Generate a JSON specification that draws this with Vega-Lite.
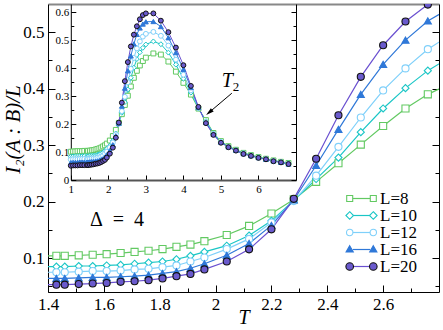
{
  "$schema": "https://vega.github.io/schema/vega-lite/v6.json",
  "width": 391,
  "height": 288,
  "autosize": {"type": "none"},
  "padding": {"left": 48, "top": 4, "right": 4, "bottom": 38},
  "background": "white",
  "config": {
    "view": {"stroke": null},
    "font": "Liberation Serif",
    "axis": {"labelFont": "Liberation Serif", "titleFont": "Liberation Serif", "labelColor": "black", "titleColor": "black", "tickColor": "black", "domainColor": "black", "grid": false, "labelOverlap": false, "labelFlush": false, "titleFontWeight": "normal"},
    "legend": {"labelFont": "Liberation Serif", "labelColor": "black"},
    "text": {"font": "Liberation Serif", "fontWeight": "normal"}
  },
  "data": {"values": [
    {"L":8,"T":1,"v":0.101},{"L":8,"T":1.06,"v":0.102},{"L":8,"T":1.12,"v":0.102},{"L":8,"T":1.18,"v":0.103},{"L":8,"T":1.24,"v":0.103},{"L":8,"T":1.3,"v":0.103},{"L":8,"T":1.36,"v":0.104},{"L":8,"T":1.43,"v":0.104},{"L":8,"T":1.46,"v":0.104},{"L":8,"T":1.51,"v":0.105},{"L":8,"T":1.56,"v":0.106},{"L":8,"T":1.61,"v":0.107},{"L":8,"T":1.66,"v":0.109},{"L":8,"T":1.71,"v":0.111},{"L":8,"T":1.76,"v":0.113},{"L":8,"T":1.81,"v":0.116},{"L":8,"T":1.86,"v":0.12},{"L":8,"T":1.91,"v":0.124},{"L":8,"T":1.96,"v":0.13},{"L":8,"T":2.04,"v":0.141},{"L":8,"T":2.12,"v":0.157},{"L":8,"T":2.2,"v":0.179},{"L":8,"T":2.28,"v":0.204},{"L":8,"T":2.36,"v":0.235},{"L":8,"T":2.44,"v":0.268},{"L":8,"T":2.52,"v":0.301},{"L":8,"T":2.6,"v":0.334},{"L":8,"T":2.68,"v":0.365},{"L":8,"T":2.76,"v":0.39},{"L":8,"T":2.84,"v":0.409},{"L":8,"T":2.92,"v":0.425},{"L":8,"T":3,"v":0.437},{"L":8,"T":3.2,"v":0.452},{"L":8,"T":3.4,"v":0.448},{"L":8,"T":3.6,"v":0.423},{"L":8,"T":3.8,"v":0.387},{"L":8,"T":4,"v":0.347},{"L":8,"T":4.2,"v":0.305},{"L":8,"T":4.4,"v":0.255},{"L":8,"T":4.6,"v":0.214},{"L":8,"T":4.8,"v":0.168},{"L":8,"T":5,"v":0.139},{"L":8,"T":5.2,"v":0.121},{"L":8,"T":5.4,"v":0.108},{"L":8,"T":5.6,"v":0.097},{"L":8,"T":5.8,"v":0.089},{"L":8,"T":6,"v":0.082},{"L":8,"T":6.2,"v":0.076},{"L":8,"T":6.4,"v":0.07},{"L":8,"T":6.6,"v":0.065},{"L":8,"T":6.8,"v":0.061},
    {"L":10,"T":1,"v":0.083},{"L":10,"T":1.06,"v":0.084},{"L":10,"T":1.12,"v":0.084},{"L":10,"T":1.18,"v":0.084},{"L":10,"T":1.24,"v":0.085},{"L":10,"T":1.3,"v":0.085},{"L":10,"T":1.36,"v":0.085},{"L":10,"T":1.43,"v":0.085},{"L":10,"T":1.46,"v":0.085},{"L":10,"T":1.51,"v":0.086},{"L":10,"T":1.56,"v":0.086},{"L":10,"T":1.61,"v":0.087},{"L":10,"T":1.66,"v":0.088},{"L":10,"T":1.71,"v":0.09},{"L":10,"T":1.76,"v":0.092},{"L":10,"T":1.81,"v":0.094},{"L":10,"T":1.86,"v":0.098},{"L":10,"T":1.91,"v":0.104},{"L":10,"T":1.96,"v":0.111},{"L":10,"T":2.04,"v":0.122},{"L":10,"T":2.12,"v":0.14},{"L":10,"T":2.2,"v":0.166},{"L":10,"T":2.28,"v":0.202},{"L":10,"T":2.36,"v":0.24},{"L":10,"T":2.44,"v":0.278},{"L":10,"T":2.52,"v":0.323},{"L":10,"T":2.6,"v":0.365},{"L":10,"T":2.68,"v":0.401},{"L":10,"T":2.76,"v":0.432},{"L":10,"T":2.84,"v":0.456},{"L":10,"T":2.92,"v":0.472},{"L":10,"T":3,"v":0.484},{"L":10,"T":3.2,"v":0.495},{"L":10,"T":3.4,"v":0.485},{"L":10,"T":3.6,"v":0.455},{"L":10,"T":3.8,"v":0.412},{"L":10,"T":4,"v":0.362},{"L":10,"T":4.2,"v":0.312},{"L":10,"T":4.4,"v":0.257},{"L":10,"T":4.6,"v":0.21},{"L":10,"T":4.8,"v":0.166},{"L":10,"T":5,"v":0.137},{"L":10,"T":5.2,"v":0.119},{"L":10,"T":5.4,"v":0.107},{"L":10,"T":5.6,"v":0.096},{"L":10,"T":5.8,"v":0.088},{"L":10,"T":6,"v":0.081},{"L":10,"T":6.2,"v":0.075},{"L":10,"T":6.4,"v":0.069},{"L":10,"T":6.6,"v":0.064},{"L":10,"T":6.8,"v":0.059},
    {"L":12,"T":1,"v":0.073},{"L":12,"T":1.06,"v":0.074},{"L":12,"T":1.12,"v":0.074},{"L":12,"T":1.18,"v":0.074},{"L":12,"T":1.24,"v":0.075},{"L":12,"T":1.3,"v":0.075},{"L":12,"T":1.36,"v":0.075},{"L":12,"T":1.43,"v":0.075},{"L":12,"T":1.46,"v":0.075},{"L":12,"T":1.51,"v":0.076},{"L":12,"T":1.56,"v":0.077},{"L":12,"T":1.61,"v":0.077},{"L":12,"T":1.66,"v":0.078},{"L":12,"T":1.71,"v":0.08},{"L":12,"T":1.76,"v":0.081},{"L":12,"T":1.81,"v":0.084},{"L":12,"T":1.86,"v":0.087},{"L":12,"T":1.91,"v":0.094},{"L":12,"T":1.96,"v":0.101},{"L":12,"T":2.04,"v":0.116},{"L":12,"T":2.12,"v":0.134},{"L":12,"T":2.2,"v":0.163},{"L":12,"T":2.28,"v":0.201},{"L":12,"T":2.36,"v":0.246},{"L":12,"T":2.44,"v":0.297},{"L":12,"T":2.52,"v":0.349},{"L":12,"T":2.6,"v":0.397},{"L":12,"T":2.68,"v":0.436},{"L":12,"T":2.76,"v":0.47},{"L":12,"T":2.84,"v":0.495},{"L":12,"T":2.92,"v":0.512},{"L":12,"T":3,"v":0.522},{"L":12,"T":3.2,"v":0.529},{"L":12,"T":3.4,"v":0.515},{"L":12,"T":3.6,"v":0.48},{"L":12,"T":3.8,"v":0.43},{"L":12,"T":4,"v":0.376},{"L":12,"T":4.2,"v":0.32},{"L":12,"T":4.4,"v":0.258},{"L":12,"T":4.6,"v":0.207},{"L":12,"T":4.8,"v":0.164},{"L":12,"T":5,"v":0.136},{"L":12,"T":5.2,"v":0.118},{"L":12,"T":5.4,"v":0.106},{"L":12,"T":5.6,"v":0.095},{"L":12,"T":5.8,"v":0.087},{"L":12,"T":6,"v":0.08},{"L":12,"T":6.2,"v":0.075},{"L":12,"T":6.4,"v":0.068},{"L":12,"T":6.6,"v":0.064},{"L":12,"T":6.8,"v":0.058},
    {"L":16,"T":1,"v":0.062},{"L":16,"T":1.06,"v":0.063},{"L":16,"T":1.12,"v":0.063},{"L":16,"T":1.18,"v":0.063},{"L":16,"T":1.24,"v":0.064},{"L":16,"T":1.3,"v":0.064},{"L":16,"T":1.36,"v":0.064},{"L":16,"T":1.43,"v":0.064},{"L":16,"T":1.46,"v":0.064},{"L":16,"T":1.51,"v":0.065},{"L":16,"T":1.56,"v":0.066},{"L":16,"T":1.61,"v":0.066},{"L":16,"T":1.66,"v":0.067},{"L":16,"T":1.71,"v":0.068},{"L":16,"T":1.76,"v":0.07},{"L":16,"T":1.81,"v":0.073},{"L":16,"T":1.86,"v":0.076},{"L":16,"T":1.91,"v":0.082},{"L":16,"T":1.96,"v":0.09},{"L":16,"T":2.04,"v":0.105},{"L":16,"T":2.12,"v":0.126},{"L":16,"T":2.2,"v":0.158},{"L":16,"T":2.28,"v":0.203},{"L":16,"T":2.36,"v":0.264},{"L":16,"T":2.44,"v":0.328},{"L":16,"T":2.52,"v":0.39},{"L":16,"T":2.6,"v":0.443},{"L":16,"T":2.68,"v":0.486},{"L":16,"T":2.76,"v":0.52},{"L":16,"T":2.84,"v":0.543},{"L":16,"T":2.92,"v":0.557},{"L":16,"T":3,"v":0.565},{"L":16,"T":3.2,"v":0.566},{"L":16,"T":3.4,"v":0.548},{"L":16,"T":3.6,"v":0.508},{"L":16,"T":3.8,"v":0.455},{"L":16,"T":4,"v":0.395},{"L":16,"T":4.2,"v":0.33},{"L":16,"T":4.4,"v":0.259},{"L":16,"T":4.6,"v":0.205},{"L":16,"T":4.8,"v":0.163},{"L":16,"T":5,"v":0.135},{"L":16,"T":5.2,"v":0.118},{"L":16,"T":5.4,"v":0.106},{"L":16,"T":5.6,"v":0.094},{"L":16,"T":5.8,"v":0.087},{"L":16,"T":6,"v":0.08},{"L":16,"T":6.2,"v":0.074},{"L":16,"T":6.4,"v":0.068},{"L":16,"T":6.6,"v":0.063},{"L":16,"T":6.8,"v":0.057},
    {"L":20,"T":1,"v":0.051},{"L":20,"T":1.06,"v":0.052},{"L":20,"T":1.12,"v":0.052},{"L":20,"T":1.18,"v":0.052},{"L":20,"T":1.24,"v":0.053},{"L":20,"T":1.3,"v":0.053},{"L":20,"T":1.36,"v":0.053},{"L":20,"T":1.43,"v":0.053},{"L":20,"T":1.46,"v":0.053},{"L":20,"T":1.51,"v":0.054},{"L":20,"T":1.56,"v":0.055},{"L":20,"T":1.61,"v":0.056},{"L":20,"T":1.66,"v":0.058},{"L":20,"T":1.71,"v":0.059},{"L":20,"T":1.76,"v":0.061},{"L":20,"T":1.81,"v":0.064},{"L":20,"T":1.86,"v":0.068},{"L":20,"T":1.91,"v":0.072},{"L":20,"T":1.96,"v":0.08},{"L":20,"T":2.04,"v":0.094},{"L":20,"T":2.12,"v":0.1155},{"L":20,"T":2.2,"v":0.151},{"L":20,"T":2.28,"v":0.205},{"L":20,"T":2.36,"v":0.276},{"L":20,"T":2.44,"v":0.353},{"L":20,"T":2.52,"v":0.421},{"L":20,"T":2.6,"v":0.477},{"L":20,"T":2.68,"v":0.519},{"L":20,"T":2.76,"v":0.549},{"L":20,"T":2.84,"v":0.574},{"L":20,"T":2.92,"v":0.589},{"L":20,"T":3,"v":0.595},{"L":20,"T":3.2,"v":0.595},{"L":20,"T":3.4,"v":0.569},{"L":20,"T":3.6,"v":0.528},{"L":20,"T":3.8,"v":0.473},{"L":20,"T":4,"v":0.41},{"L":20,"T":4.2,"v":0.336},{"L":20,"T":4.4,"v":0.261},{"L":20,"T":4.6,"v":0.203},{"L":20,"T":4.8,"v":0.161},{"L":20,"T":5,"v":0.133},{"L":20,"T":5.2,"v":0.117},{"L":20,"T":5.4,"v":0.105},{"L":20,"T":5.6,"v":0.093},{"L":20,"T":5.8,"v":0.086},{"L":20,"T":6,"v":0.079},{"L":20,"T":6.2,"v":0.074},{"L":20,"T":6.4,"v":0.067},{"L":20,"T":6.6,"v":0.063},{"L":20,"T":6.8,"v":0.057}
  ]},
  "resolve": {"scale": {"x": "independent", "y": "independent", "color": "independent", "fill": "independent", "shape": "independent"}, "axis": {"x": "independent", "y": "independent"}, "legend": {"color": "independent", "fill": "independent", "shape": "independent"}},
  "layer": [
    {
      "mark": {"type": "line", "clip": true, "strokeWidth": 1.2},
      "encoding": {
        "x": {"field": "T", "type": "quantitative", "scale": {"domain": [1.4, 2.8], "nice": false, "zero": false},
          "axis": {"orient": "bottom", "values": [1.4,1.5,1.6,1.7,1.8,1.9,2,2.1,2.2,2.3,2.4,2.5,2.6,2.7], "format": "~g",
            "labelExpr": "round(datum.value*10)%2==0 ? datum.label : ''",
            "tickSize": {"condition": {"test": "round(datum.value*10)%2==0", "value": -7}, "value": -4},
            "labelPadding": 11, "labelFontSize": 17, "domainWidth": 1,
            "title": "T", "titleFontSize": 20, "titleFontStyle": "italic", "titleY": 31, "titleBaseline": "alphabetic"}},
        "y": {"field": "v", "type": "quantitative", "scale": {"domain": [0.04, 0.55], "nice": false, "zero": false},
          "axis": {"orient": "left", "values": [0.05,0.1,0.15,0.2,0.25,0.3,0.35,0.4,0.45,0.5], "format": "~g",
            "labelExpr": "round(datum.value*20)%2==0 ? datum.label : ''",
            "tickSize": {"condition": {"test": "round(datum.value*20)%2==0", "value": -7}, "value": -4},
            "labelPadding": 11, "labelFontSize": 17,
            "title": "I₂(A : B)/L", "titleFontSize": 21, "titleFontStyle": "italic", "titleX": -35, "titleY": 125, "titleAlign": "center", "titleBaseline": "middle", "titleAngle": -90}},
        "stroke": {"field": "L", "type": "nominal",
          "scale": {"domain": [8, 10, 12, 16, 20], "range": ["#62c962", "#1ac6c6", "#7fd0fa", "#2f78d8", "#6a50d0"]},
          "legend": {"orient": "none", "legendX": 305, "legendY": 186, "title": null, "padding": 0,
            "symbolType": "M-2.2,0H2.2", "symbolSize": 64, "symbolStrokeWidth": 1.2,
            "labelExpr": "'L=' + datum.label", "labelFontSize": 17, "labelOffset": 10, "rowPadding": -1}}
      }
    },
    {
      "mark": {"type": "point", "clip": true, "filled": false, "size": 50, "strokeWidth": 1.1, "opacity": 1},
      "encoding": {
        "x": {"field": "T", "type": "quantitative", "scale": {"domain": [1.4, 2.8], "nice": false, "zero": false},
          "axis": {"orient": "top", "ticks": false, "labels": false, "domainColor": "#888888", "domainWidth": 2, "title": null}},
        "y": {"field": "v", "type": "quantitative", "scale": {"domain": [0.04, 0.55], "nice": false, "zero": false},
          "axis": {"orient": "right", "values": [0.05,0.1,0.15,0.2,0.25,0.3,0.35,0.4,0.45,0.5], "labels": false,
            "tickSize": {"condition": {"test": "round(datum.value*20)%2==0", "value": -7}, "value": -4}, "title": null}},
        "color": {"field": "L", "type": "nominal", "scale": {"domain": [8, 10, 12, 16, 20], "range": ["#62c962", "#1ac6c6", "#7fd0fa", "#2f78d8", "#111111"]}, "legend": null},
        "fill": {"field": "L", "type": "nominal", "scale": {"domain": [8, 10, 12, 16, 20], "range": ["white", "white", "white", "#2f78d8", "#6a5acd"]}, "legend": null},
        "shape": {"field": "L", "type": "nominal", "scale": {"domain": [8, 10, 12, 16, 20], "range": ["square", "diamond", "circle", "triangle-up", "circle"]}, "legend": null}
      }
    },
    {
      "mark": {"type": "line", "strokeWidth": 1},
      "encoding": {
        "x": {"field": "T", "type": "quantitative", "scale": {"domain": [1, 7], "range": [22.8, 248], "nice": false, "zero": false},
          "axis": {"orient": "bottom", "offset": -112, "values": [1,1.5,2,2.5,3,3.5,4,4.5,5,5.5,6,6.5], "format": "~g",
            "labelExpr": "datum.value % 1 == 0 ? datum.label : ''",
            "tickSize": {"condition": {"test": "datum.value % 1 == 0", "value": -5}, "value": -3},
            "labelPadding": 8, "labelFontSize": 11, "domainColor": "#555555", "domainWidth": 2, "title": null}},
        "y": {"field": "v", "type": "quantitative", "scale": {"domain": [0, 0.6286], "range": [176, 0], "nice": false, "zero": false},
          "axis": {"orient": "left", "offset": -22.8, "values": [0,0.05,0.1,0.15,0.2,0.25,0.3,0.35,0.4,0.45,0.5,0.55,0.6], "format": "~g",
            "labelExpr": "round(datum.value*20)%2==0 ? datum.label : ''",
            "tickSize": {"condition": {"test": "round(datum.value*20)%2==0", "value": -5}, "value": -3},
            "labelPadding": 7, "labelFontSize": 11, "title": null}},
        "stroke": {"field": "L", "type": "nominal",
          "scale": {"domain": [8, 10, 12, 16, 20], "range": ["#62c962", "#1ac6c6", "#7fd0fa", "#2f78d8", "#6a50d0"]},
          "legend": {"orient": "none", "legendX": 305, "legendY": 186, "title": null, "padding": 0,
            "symbolType": "M-2.2,0H2.2", "symbolSize": 64, "symbolStrokeWidth": 1.2,
            "labelExpr": "'L=' + datum.label", "labelFontSize": 17, "labelOffset": 10, "rowPadding": -1}}
      }
    },
    {
      "mark": {"type": "point", "filled": false, "size": 24, "strokeWidth": 1, "opacity": 1},
      "encoding": {
        "x": {"field": "T", "type": "quantitative", "scale": {"domain": [1, 7], "range": [22.8, 248], "nice": false, "zero": false}, "axis": null},
        "y": {"field": "v", "type": "quantitative", "scale": {"domain": [0, 0.6286], "range": [176, 0], "nice": false, "zero": false},
          "axis": {"orient": "right", "offset": -143, "values": [0,0.05,0.1,0.15,0.2,0.25,0.3,0.35,0.4,0.45,0.5,0.55,0.6], "labels": false,
            "tickSize": {"condition": {"test": "round(datum.value*20)%2==0", "value": -5}, "value": -3}, "title": null}},
        "color": {"field": "L", "type": "nominal", "scale": {"domain": [8, 10, 12, 16, 20], "range": ["#62c962", "#1ac6c6", "#7fd0fa", "#2f78d8", "#111111"]}, "legend": null},
        "fill": {"field": "L", "type": "nominal", "scale": {"domain": [8, 10, 12, 16, 20], "range": ["white", "white", "white", "#2f78d8", "#6a5acd"]}, "legend": null},
        "shape": {"field": "L", "type": "nominal", "scale": {"domain": [8, 10, 12, 16, 20], "range": ["square", "diamond", "circle", "triangle-up", "circle"]}, "legend": null}
      }
    },
    {
      "data": {"values": [{"L": 8}, {"L": 10}, {"L": 12}, {"L": 16}, {"L": 20}]},
      "mark": {"type": "point", "filled": false, "size": 64, "strokeWidth": 1.1, "opacity": 0},
      "encoding": {
        "color": {"field": "L", "type": "nominal",
          "scale": {"domain": [8, 10, 12, 16, 20], "range": ["#62c962", "#1ac6c6", "#7fd0fa", "#2f78d8", "#111111"]},
          "legend": {"orient": "none", "legendX": 305, "legendY": 186, "title": null, "padding": 0, "symbolSize": 64, "symbolStrokeWidth": 1.1, "symbolOpacity": 1, "labelExpr": "'L=' + datum.label", "labelFontSize": 17, "labelOffset": 10, "rowPadding": -1, "labelOpacity": 0}},
        "fill": {"field": "L", "type": "nominal",
          "scale": {"domain": [8, 10, 12, 16, 20], "range": ["white", "white", "white", "#2f78d8", "#6a5acd"]},
          "legend": {"orient": "none", "legendX": 305, "legendY": 186, "title": null, "padding": 0, "symbolSize": 64, "symbolStrokeWidth": 1.1, "symbolOpacity": 1, "labelExpr": "'L=' + datum.label", "labelFontSize": 17, "labelOffset": 10, "rowPadding": -1, "labelOpacity": 0}},
        "shape": {"field": "L", "type": "nominal",
          "scale": {"domain": [8, 10, 12, 16, 20], "range": [
            "M-3.7,-0.75H-2.2V0.75H-3.7Z M2.2,-0.75H3.7V0.75H2.2Z",
            "M-2.95,-0.95L-2,0L-2.95,0.95L-3.9,0Z M2.95,-0.95L3.9,0L2.95,0.95L2,0Z",
            "M-2.15,0A0.8,0.8,0,1,1,-3.75,0A0.8,0.8,0,1,1,-2.15,0Z M3.75,0A0.8,0.8,0,1,1,2.15,0A0.8,0.8,0,1,1,3.75,0Z",
            "M-2.95,-0.95L-2.05,0.6L-3.85,0.6Z M2.95,-0.95L3.85,0.6L2.05,0.6Z",
            "M-2,0A0.95,0.95,0,1,1,-3.9,0A0.95,0.95,0,1,1,-2,0Z M3.9,0A0.95,0.95,0,1,1,2,0A0.95,0.95,0,1,1,3.9,0Z"]},
          "legend": {"orient": "none", "legendX": 305, "legendY": 186, "title": null, "padding": 0, "symbolSize": 64, "symbolStrokeWidth": 1.1, "symbolOpacity": 1, "labelExpr": "'L=' + datum.label", "labelFontSize": 17, "labelOffset": 10, "rowPadding": -1, "labelOpacity": 0}}
      }
    },
    {
      "data": {"values": [{}]},
      "mark": {"type": "text", "text": "Δ\u2002=\u20024", "font": "Liberation Serif", "fontWeight": "normal", "fontSize": 20, "align": "center", "baseline": "alphabetic", "color": "black"},
      "encoding": {
        "x": {"datum": 1.647, "type": "quantitative", "scale": {"domain": [1.4, 2.8], "nice": false, "zero": false}, "axis": null},
        "y": {"datum": 0.156, "type": "quantitative", "scale": {"domain": [0.04, 0.55], "nice": false, "zero": false}, "axis": null}
      }
    },
    {
      "data": {"values": [{}]},
      "mark": {"type": "text", "text": "T", "font": "Liberation Serif", "fontWeight": "normal", "fontSize": 20, "fontStyle": "italic", "align": "left", "baseline": "alphabetic", "color": "black"},
      "encoding": {
        "x": {"datum": 5.02, "type": "quantitative", "scale": {"domain": [1, 7], "range": [22.8, 248], "nice": false, "zero": false}, "axis": null},
        "y": {"datum": 0.331, "type": "quantitative", "scale": {"domain": [0, 0.6286], "range": [176, 0], "nice": false, "zero": false}, "axis": null}
      }
    },
    {
      "data": {"values": [{}]},
      "mark": {"type": "text", "text": "2", "font": "Liberation Serif", "fontWeight": "normal", "fontSize": 13, "align": "left", "baseline": "alphabetic", "dx": 11, "dy": 4, "color": "black"},
      "encoding": {
        "x": {"datum": 5.02, "type": "quantitative", "scale": {"domain": [1, 7], "range": [22.8, 248], "nice": false, "zero": false}, "axis": null},
        "y": {"datum": 0.331, "type": "quantitative", "scale": {"domain": [0, 0.6286], "range": [176, 0], "nice": false, "zero": false}, "axis": null}
      }
    },
    {
      "data": {"values": [{}]},
      "mark": {"type": "rule", "color": "black", "strokeWidth": 1},
      "encoding": {
        "x": {"datum": 5.29, "type": "quantitative", "scale": {"domain": [1, 7], "range": [22.8, 248], "nice": false, "zero": false}, "axis": null},
        "y": {"datum": 0.31, "type": "quantitative", "scale": {"domain": [0, 0.6286], "range": [176, 0], "nice": false, "zero": false}, "axis": null},
        "x2": {"datum": 4.687},
        "y2": {"datum": 0.2414}
      }
    },
    {
      "data": {"values": [{}]},
      "mark": {"type": "point", "shape": "M0,-1L0.55,1L-0.55,1Z", "filled": true, "color": "black", "size": 64, "angle": 230, "opacity": 1},
      "encoding": {
        "x": {"datum": 4.687, "type": "quantitative", "scale": {"domain": [1, 7], "range": [22.8, 248], "nice": false, "zero": false}, "axis": null},
        "y": {"datum": 0.2414, "type": "quantitative", "scale": {"domain": [0, 0.6286], "range": [176, 0], "nice": false, "zero": false}, "axis": null}
      }
    }
  ]
}
